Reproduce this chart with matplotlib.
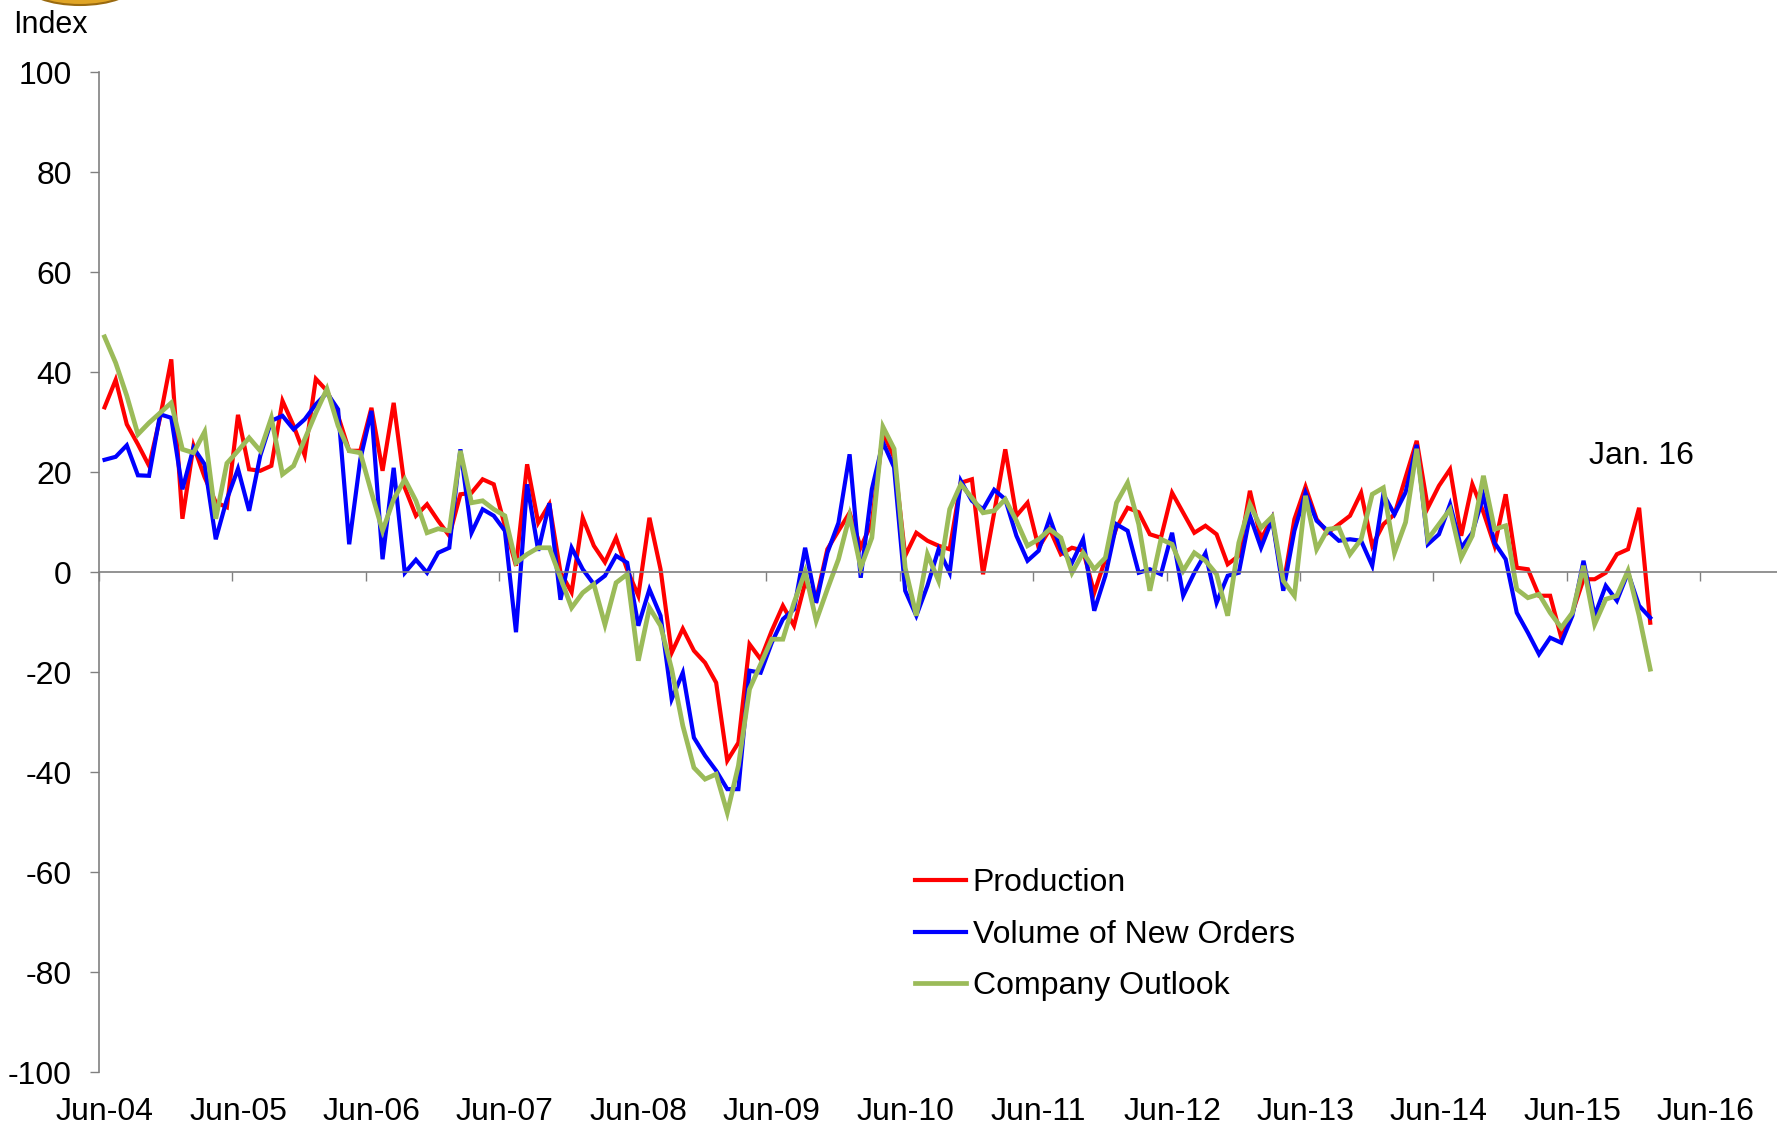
import numpy as np
import matplotlib.pyplot as plt
import matplotlib.transforms as mtransforms
from matplotlib.patches import Ellipse

plt.rcParams["font.family"] = ["Liberation Sans", "DejaVu Sans"]

# monthly survey indexes, Jun-04 .. Jan-16
produccion = [
    33, 38.5, 29.6, 25.6, 21.3, 31, 42.6, 10.7, 25.3, 19, 14, 13,
    31.5, 20.6, 20.3, 21.3, 34.3, 29.3, 23.4, 38.7, 36.3, 31.3, 24.3, 24.3,
    32.9, 20.3, 33.9, 16.9, 11.3, 13.6, 10.3, 7.3, 15.6, 15.9, 18.6, 17.6,
    9.3, 1.3, 21.6, 9.9, 13.6, 0, -4, 10.9, 5.3, 2, 6.9, 0.5,
    -4.7, 10.9, 0.6, -16.1, -11.3, -15.7, -18.1, -22.1, -37.7, -34.1, -14.4, -17.4,
    -11.7, -6.7, -10.7, -2.1, -5.4, 4.6, 8.3, 11.9, 5, 9.9, 27.9, 23,
    3.3, 7.9, 6.3, 5.3, 4.6, 17.9, 18.6, -0.4, 11.9, 24.6, 11.3, 13.9,
    4.9, 8.6, 3.6, 4.9, 4.3, -4.1, 2.6, 8.9, 12.9, 12, 7.6, 6.9,
    15.9, 11.9, 7.9, 9.3, 7.6, 1.6, 3.3, 16.3, 6.6, 10.9, -2.7, 10.6,
    17.1, 10.6, 7.9, 9.6, 11.3, 15.9, 5.3, 9.6, 11.6, 19, 26.3, 12.9,
    17.3, 20.6, 7.3, 17.6, 12, 5.3, 15.6, 0.9, 0.6, -4.7, -4.7, -13.1,
    -8.1, -1.4, -1.4, -0.1, 3.6, 4.6, 12.9, -10.1,
]
nuevos_pedidos = [
    22.5, 23.1, 25.4, 19.4, 19.3, 31.6, 30.9, 16.6, 24.9, 21.6, 6.6, 14.6,
    20.7, 12.3, 23.3, 30.3, 31.3, 28.6, 30.6, 33.6, 35.9, 32.6, 5.6, 22.6,
    32.3, 2.6, 20.9, -0.1, 2.5, -0.1, 3.9, 4.9, 24.6, 7.9, 12.6, 11.3,
    8.3, -12, 17.6, 4.3, 13.8, -5.5, 4.9, 0.6, -2.4, -0.7, 3.3, 1.9,
    -10.7, -3.4, -8.7, -25.4, -20.1, -33.1, -36.7, -39.7, -43.4, -43.4, -19.7, -20.1,
    -14.1, -9.4, -7.4, 4.9, -6.1, 3.9, 9.9, 23.6, -1.1, 16.6, 26, 21,
    -3.7, -8.7, -2.7, 4.6, -0.1, 18.3, 14.3, 12.6, 16.5, 14.6, 7.3, 2.3,
    4.3, 10.9, 4.6, 1.9, 6.6, -7.7, -0.7, 9.6, 8.3, -0.1, 0.6, -0.4,
    7.9, -4.7, -0.1, 3.8, -6.1, -0.7, -0.1, 11.3, 4.9, 10.6, -3.7, 8.3,
    15.9, 10.3, 8.3, 6.3, 6.6, 6.3, 1.3, 15.6, 11.6, 16, 25.5, 5.6,
    7.6, 13.6, 4.9, 7.9, 15.3, 5.9, 2.6, -8.1, -12.1, -16.4, -13.1, -14.1,
    -8.7, 2.3, -8.7, -2.7, -5.7, -0.1, -6.7, -9.1,
]
perspectiva = [
    47.1, 41.9, 35.3, 27.6, 29.9, 31.9, 33.9, 24.6, 23.9, 28.1, 10.7, 21.8,
    24.3, 26.9, 24.3, 30.9, 19.6, 21.3, 26.6, 31.9, 36.7, 29.3, 24.3, 23.9,
    16, 8.3, 14.6, 18.6, 14.3, 7.9, 8.7, 8.3, 24.3, 13.9, 14.3, 12.6,
    11.3, 1.9, 3.6, 4.9, 4.9, -1.1, -7.1, -4.1, -2.4, -10.5, -2.1, -0.4,
    -17.7, -7.1, -10.7, -19.4, -30.7, -39.1, -41.4, -40.4, -48.1, -38.7, -23.4, -18.4,
    -13.4, -13.4, -6.1, 0.1, -9.7, -3.4, 2.6, 11.3, 0.9, 6.9, 29.1, 24.7,
    0.9, -8.7, 3.6, -1.7, 12.6, 17.6, 14.9, 11.9, 12.3, 14.6, 10.3, 5.3,
    6.6, 8.6, 6.9, -0.1, 3.9, 0.6, 2.9, 13.9, 17.9, 9.6, -3.7, 6.6,
    5.6, 0.3, 3.9, 2.3, -0.4, -8.7, 5.9, 13.6, 8.9, 11.1, -1.7, -4.7,
    15.3, 4.6, 8.6, 8.9, 3.6, 6.6, 15.6, 16.9, 3.9, 10, 24.7, 6.6,
    9.6, 12.6, 2.9, 7.3, 19.3, 8.6, 9.3, -3.4, -5.1, -4.4, -8.1, -11.1,
    -8.1, 1.3, -10.4, -5.4, -4.7, 0.3, -8.7, -19.4,
]
etiquetas_x = ["Jun-04", "Jun-05", "Jun-06", "Jun-07", "Jun-08", "Jun-09", "Jun-10",
               "Jun-11", "Jun-12", "Jun-13", "Jun-14", "Jun-15", "Jun-16"]
ticks_y = [-100, -80, -60, -40, -20, 0, 20, 40, 60, 80, 100]

meses = np.arange(len(produccion))
GRIS = "#808080"
FS = 23

fig = plt.figure(figsize=(17.77, 11.25), dpi=100)
ax = fig.add_axes([99 / 1777, 53 / 1125, 1 - 99 / 1777, 999.5 / 1125])

ax.plot(meses, produccion, color="#FF0000", lw=3.0, label="Production", solid_joinstyle="miter")
ax.plot(meses, nuevos_pedidos, color="#0000FF", lw=3.0, label="Volume of New Orders", solid_joinstyle="miter")
ax.plot(meses, perspectiva, color="#9BBB59", lw=3.4, label="Company Outlook", solid_joinstyle="miter")

ax.set_xlim(-0.5, 150.4)
ax.set_ylim(-100, 100)

for lado in ["top", "right"]:
    ax.spines[lado].set_visible(False)
ax.spines["bottom"].set_position(("data", 0))
ax.spines["bottom"].set_color(GRIS)
ax.spines["left"].set_color(GRIS)
ax.spines["bottom"].set_linewidth(1.2)
ax.spines["left"].set_linewidth(1.2)

ax.set_yticks(ticks_y)
ax.set_yticklabels([str(v) for v in ticks_y], fontsize=FS)
ax.tick_params(axis="y", direction="out", length=6.5, width=1, color=GRIS, pad=13)

# year boundaries on the zero line
ax.set_xticks(np.arange(-0.5, 150, 12))
ax.set_xticklabels([])
ax.tick_params(axis="x", direction="out", length=6.5, width=1, color=GRIS)

trans = mtransforms.blended_transform_factory(ax.transData, ax.transAxes)
for k, etiqueta in enumerate(etiquetas_x):
    ax.text(12 * k, -0.04, etiqueta, transform=trans, ha="center", va="center", fontsize=FS)

fig.text(13 / 1777, 1 - 33 / 1125, "Index", fontsize=22, ha="left", va="baseline")
ax.text(133.5, 23.3, "Jan. 16", fontsize=FS, ha="left", va="center")

ax.legend(loc="upper left", bbox_to_anchor=(915 / 1777, 1 - 868 / 1125), bbox_transform=fig.transFigure,
          frameon=False, fontsize=FS, handlelength=1.6, handletextpad=0.2, labelspacing=0.68,
          borderpad=0, borderaxespad=0)

# logo fragment at the top left corner
fig.patches.append(Ellipse((80 / 1777, 1 + 16 / 1125), 110 / 1777, 42 / 1125, transform=fig.transFigure,
                           facecolor="#E0A526", edgecolor="#9A6A10", lw=1.5))

fig.savefig("out.png", dpi=100)
